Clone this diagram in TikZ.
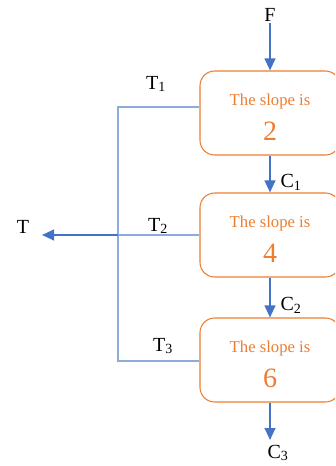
\documentclass[tikz,border=0pt]{standalone}
\usepackage{fontspec}
\setmainfont{Liberation Serif}
\usetikzlibrary{positioning,arrows.meta}
\definecolor{boxorange}{RGB}{237,125,49}
\definecolor{flowblue}{RGB}{68,114,196}
\definecolor{lineblue}{RGB}{143,170,220}

\newcommand{\slopetext}[1]{{\fontsize{12.5}{14}\selectfont\rule{0pt}{15pt}The slope is}\\[9pt]{\fontsize{21}{22}\selectfont #1}}

\tikzset{
  slopebox/.style={draw=boxorange, thick, rounded corners=11pt, fill=white,
    minimum width=105pt, minimum height=63pt, align=center, text=boxorange},
  flow/.style={draw=flowblue, line width=1.5pt, -{Triangle[length=9pt,width=8pt]}},
  tline/.style={draw=lineblue, line width=0.9pt},
  lbl/.style={font=\fontsize{15}{17}\selectfont, inner sep=1pt}
}

\begin{document}
\begin{tikzpicture}[x=0.75pt,y=-0.75pt]
\useasboundingbox (0,0) rectangle (335,466);
\clip (0,0) rectangle (335,466);

% the three stages
\node[slopebox] (s1) at (270,113) {\slopetext{2}};
\node[slopebox] (s2) at (270,235) {\slopetext{4}};
\node[slopebox] (s3) at (270,360) {\slopetext{6}};

% feed and product streams
\node[lbl] (f) at (270,15) {F};
\node[lbl] (c1) at (291,182) {C\textsubscript{1}};
\node[lbl] (c2) at (291,305) {C\textsubscript{2}};
\node[lbl] (c3) at (278,453) {C\textsubscript{3}};
\coordinate (c3top) at (270,440);

\draw[flow] (f.south) -- (s1.north);
\draw[flow] (s1.south) -- (s2.north);
\draw[flow] (s2.south) -- (s3.north);
\draw[flow] (s3.south) -- (c3top);

% side draws collected into T
\coordinate (j1) at (118,107);
\coordinate (j2) at (118,235);
\coordinate (j3) at (118,361);
\coordinate (tend) at (42,235);

\draw[tline] (s1.west |- j1) -- (j1) -- (j3) -- (s3.west |- j3);
\draw[tline] (s2.west |- j2) -- (j2);
\draw[flow] (j2) -- (tend);

\node[lbl] (t1) at (156,84) {T\textsubscript{1}};
\node[lbl] (t2) at (158,226) {T\textsubscript{2}};
\node[lbl] (t3) at (163,346) {T\textsubscript{3}};
\node[lbl] (t) at (23,227) {T};
\end{tikzpicture}
\end{document}
